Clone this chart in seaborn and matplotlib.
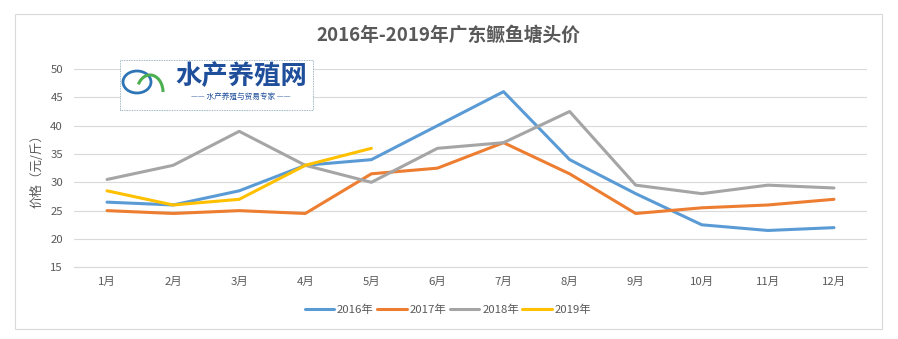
import numpy as np
import pandas as pd
import matplotlib
matplotlib.use("Agg")
import matplotlib.pyplot as plt
import seaborn as sns
from matplotlib.patches import Rectangle, Ellipse, Arc
from matplotlib.lines import Line2D

months = ["1月", "2月", "3月", "4月", "5月", "6月", "7月", "8月", "9月", "10月", "11月", "12月"]
y2016 = [26.5, 26, 28.5, 33, 34, 40, 46, 34, 28, 22.5, 21.5, 22]
y2017 = [25, 24.5, 25, 24.5, 31.5, 32.5, 37, 31.5, 24.5, 25.5, 26, 27]
y2018 = [30.5, 33, 39, 33, 30, 36, 37, 42.5, 29.5, 28, 29.5, 29]
y2019 = [28.5, 26, 27, 33, 36]
series_names = ["2016年", "2017年", "2018年", "2019年"]
colors = ["#5B9BD5", "#ED7D31", "#A5A5A5", "#FFC000"]
title = "2016年-2019年广东鳜鱼塘头价"
ylabel = "价格（元/斤）"
yticks = [15, 20, 25, 30, 35, 40, 45, 50]

sns.set_theme(style="white")
plt.rcParams['font.family'] = ['Noto Sans CJK SC', 'DejaVu Sans']

rows = []
for name, vals in zip(series_names, [y2016, y2017, y2018, y2019]):
    for m, v in zip(months, vals):
        rows.append({"month": m, "price": v, "year": name})
df = pd.DataFrame(rows)

fig = plt.figure(figsize=(8.98, 3.39), dpi=100)
fig.patch.set_facecolor("white")
# outer chart border
fig.add_artist(Rectangle((15 / 898, 1 - 329 / 339), (882 - 15) / 898, (329 - 14) / 339,
                         transform=fig.transFigure, fill=False, edgecolor="#D9D9D9", linewidth=0.8))

ax = fig.add_axes([74 / 898, 1 - 267.3 / 339, (867 - 74) / 898, (267.3 - 69) / 339])
sns.lineplot(data=df, x="month", y="price", hue="year", palette=colors, hue_order=series_names,
             sort=False, linewidth=2.2, ax=ax, legend=False, zorder=3)

ax.set_xlim(-0.5, 11.5)
ax.set_ylim(15, 50)
ax.set_yticks(yticks)
ax.set_xticks(range(len(months)))
ax.set_xticklabels(months)
ax.grid(axis="y", color="#D9D9D9", linewidth=0.8)
ax.grid(axis="x", visible=False)
for s in ["top", "right", "left"]:
    ax.spines[s].set_visible(False)
ax.spines["bottom"].set_color("#D9D9D9")
ax.spines["bottom"].set_linewidth(0.8)
ax.tick_params(axis="both", length=0, labelsize=8.2, colors="#595959")
ax.tick_params(axis="x", pad=7)
ax.tick_params(axis="y", pad=8)
ax.set_xlabel("")
ax.set_ylabel(ylabel, fontsize=9, color="#595959")
ax.yaxis.set_label_coords(-0.039, 0.5)

fig.text(448 / 898, 1 - 35 / 339, title, ha="center", va="center", fontsize=13.5,
         fontweight="bold", color="#595959")

# legend
handles = [Line2D([0], [0], color=c, linewidth=2.2) for c in colors]
fig.legend(handles, series_names, loc="center", bbox_to_anchor=(448 / 898, 1 - 310 / 339),
           ncol=4, frameon=False, fontsize=8.2, handlelength=2.6, handletextpad=0.25,
           columnspacing=0.3, labelcolor="#595959")

# watermark logo box
fig.add_artist(Rectangle((120 / 898, 1 - 110 / 339), (313 - 120) / 898, (110 - 60) / 339,
                         transform=fig.transFigure, facecolor="white", edgecolor="#7F9FB0",
                         linewidth=0.6, linestyle=(0, (1, 1)), zorder=5))
fig.add_artist(Ellipse((137 / 898, 1 - 82 / 339), 28 / 898, 22 / 339, transform=fig.transFigure,
                       fill=False, edgecolor="#2E75B6", linewidth=2.0, zorder=6))
fig.add_artist(Arc((150 / 898, 1 - 92 / 339), 26 / 898, 34 / 339, theta1=0, theta2=120,
                   transform=fig.transFigure, edgecolor="#4CAF50", linewidth=2.2, zorder=6))
fig.text(241 / 898, 1 - 76 / 339, "水产养殖网", ha="center", va="center", fontsize=19,
         fontweight="bold", color="#1F4E9A", zorder=6)
fig.text(241 / 898, 1 - 97 / 339, "—— 水产养殖与贸易专家 ——", ha="center", va="center",
         fontsize=5.5, color="#1F4E9A", zorder=6)

fig.savefig("out.png", dpi=100)
